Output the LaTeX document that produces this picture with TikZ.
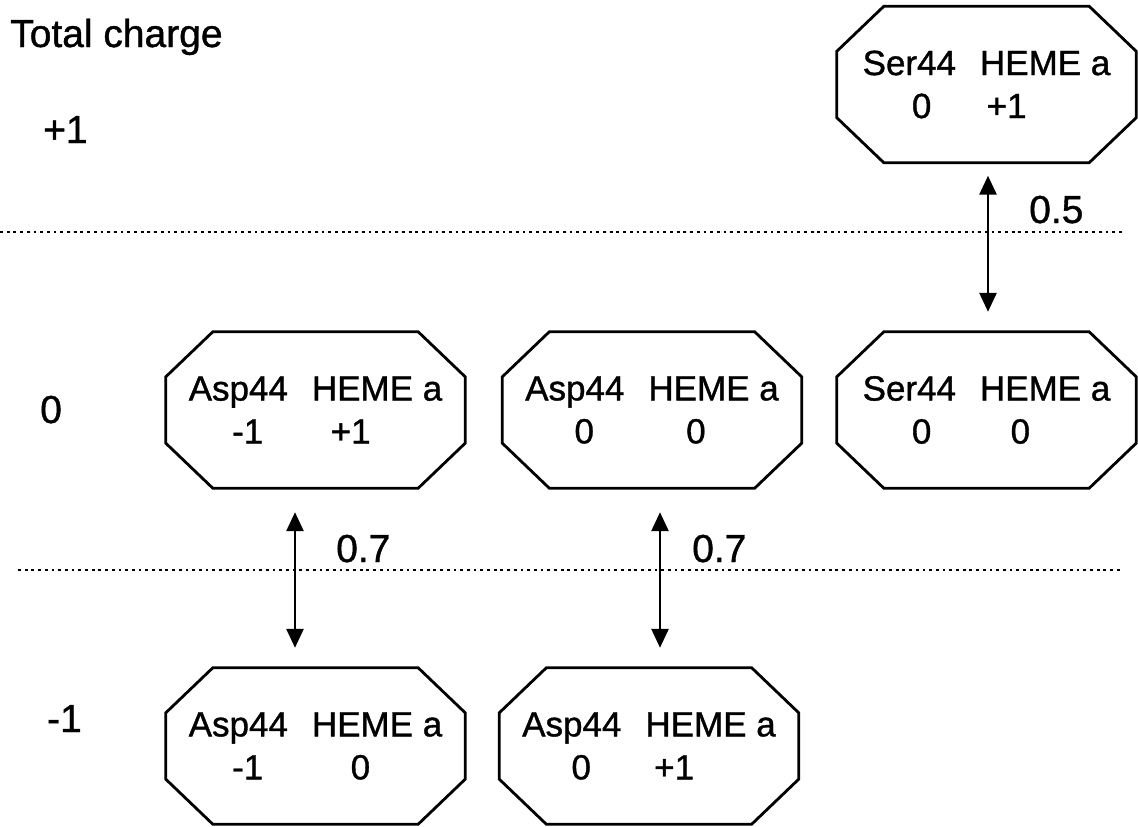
\documentclass[tikz,border=0pt]{standalone}
\usepackage{fontspec}
\setmainfont{Liberation Sans}[FakeBold=1]
\usetikzlibrary{arrows.meta,calc}
\newcommand\statetxt[4]{#1\hspace{24pt}HEME a\\\makebox[118pt]{#2}\hspace{#3}#4}
\begin{document}
\begin{tikzpicture}[x=1pt,y=-1pt,
  state/.style={minimum width=299pt,minimum height=156pt,inner sep=0pt,
    font=\fontsize{35}{43}\selectfont,align=left},
  lbl/.style={anchor=base west,inner sep=0pt,font=\fontsize{39}{45}\selectfont},
  sepline/.style={line width=2.8pt,dash pattern=on 2.8pt off 3.9pt},
  link/.style={line width=2.8pt,{Triangle[length=19pt,width=17pt]}-{Triangle[length=19pt,width=17pt]}},
  octo/.style={line width=2.8pt,line join=miter}]
\useasboundingbox (0,0) rectangle (1138,827);

% level labels
\node[lbl] (title) at (10,47) {Total charge};
\node[lbl] (lp1) at (43,143) {+1};
\node[lbl] (l0) at (40,423) {0};
\node[lbl] (lm1) at (47,732) {-1};

% separators
\coordinate (s1a) at (0,232);   \coordinate (s1b) at (1122,232);
\coordinate (s2a) at (18,570);  \coordinate (s2b) at (1122,570);
\draw[sepline] (s1a) -- (s1b);
\draw[sepline] (s2a) -- (s2b);

% states
\node[state] (T)  at (986.5,84.5)  {\statetxt{Ser44}{0}{6pt}{+1}};
\node[state] (L)  at (315.5,410)   {\statetxt{Asp44}{-1}{24pt}{+1}};
\node[state] (M)  at (652,410)     {\statetxt{Asp44}{0}{43pt}{0}};
\node[state] (R)  at (986.5,410)   {\statetxt{Ser44}{0}{30pt}{0}};
\node[state] (BL) at (315.5,746)   {\statetxt{Asp44}{-1}{44pt}{0}};
\node[state] (BM) at (649,746)     {\statetxt{Asp44}{0}{14pt}{+1}};

\foreach \n in {T,L,M,R,BL,BM}
  \draw[octo] ($(\n.north west)+(47pt,0pt)$) -- ($(\n.north east)+(-47pt,0pt)$)
    -- ($(\n.north east)+(0pt,-45pt)$) -- ($(\n.south east)+(0pt,45pt)$)
    -- ($(\n.south east)+(-47pt,0pt)$) -- ($(\n.south west)+(47pt,0pt)$)
    -- ($(\n.south west)+(0pt,45pt)$) -- ($(\n.north west)+(0pt,-45pt)$) -- cycle;

% transitions
\draw[link] ([xshift=1.5pt,yshift=-13pt]T.south) -- ([xshift=1.5pt,yshift=20pt]R.north);
\draw[link] ([xshift=-20.5pt,yshift=-24pt]L.south) -- ([xshift=-20.5pt,yshift=20pt]BL.north);
\draw[link] ([xshift=8pt,yshift=-24pt]M.south) -- ([xshift=11pt,yshift=20pt]BM.north);

\node[lbl] (e1) at (1029,223) {0.5};
\node[lbl] (e2) at (336,562) {0.7};
\node[lbl] (e3) at (692,562) {0.7};
\end{tikzpicture}
\end{document}
